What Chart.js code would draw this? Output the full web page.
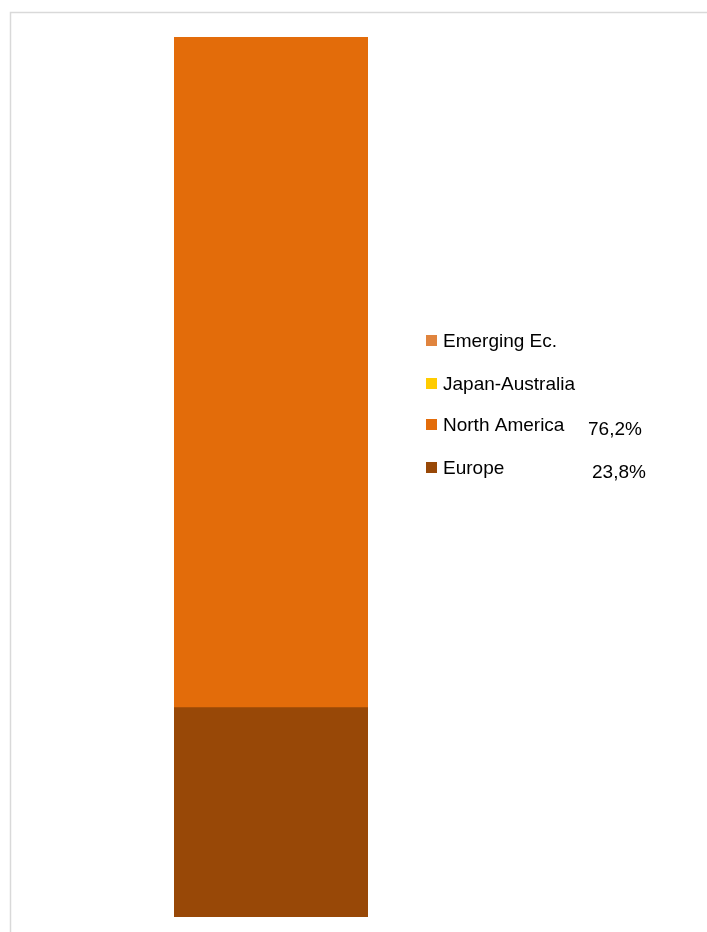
<!DOCTYPE html>
<html lang="en">
<head>
  <meta charset="UTF-8">
  <title>Regional split</title>
  <script src="https://cdn.jsdelivr.net/npm/chart.js"></script>
  <style>
    body {
      margin: 0;
      padding: 0;
      background: #ffffff;
    }
    #wrap {
      width: 707px;
      height: 932px;
    }
  </style>
</head>
<body>
  <div id="wrap">
    <canvas id="regionChart" width="707" height="932"></canvas>
  </div>

  <script>
    // data (percent of total)
    const categories = [''];
    const regions = ['Europe', 'North America', 'Japan-Australia', 'Emerging Ec.'];
    const shares = [23.8, 76.2, 0, 0];
    const shareLabels = ['23,8%', '76,2%', '', ''];
    const colors = ['#984807', '#E36C0A', '#FFCC00', '#E0843E'];

    // grey frame behind the chart
    const framePlugin = {
      id: 'frame',
      beforeDraw(chart) {
        const ctx = chart.ctx;
        ctx.save();
        ctx.strokeStyle = '#d9d9d9';
        ctx.lineWidth = 1.5;
        ctx.beginPath();
        ctx.moveTo(10.5, 940);
        ctx.lineTo(10.5, 12.5);
        ctx.lineTo(720, 12.5);
        ctx.stroke();
        ctx.restore();
      }
    };

    // legend on the right, top entry = last dataset
    const legendPlugin = {
      id: 'sideLegend',
      afterDraw(chart) {
        const ctx = chart.ctx;
        const font = '19px "Liberation Sans", Arial, sans-serif';
        const rowY = [335, 378, 419, 462];
        const valueX = [592, 588];
        ctx.save();
        ctx.font = font;
        ctx.textBaseline = 'alphabetic';
        for (let i = 0; i < regions.length; i++) {
          const idx = regions.length - 1 - i;
          const y = rowY[i];
          ctx.fillStyle = colors[idx];
          ctx.fillRect(426, y, 11, 11);
          ctx.fillStyle = '#000000';
          ctx.fillText(regions[idx], 443, y + 12);
          if (shareLabels[idx]) {
            ctx.fillText(shareLabels[idx], valueX[idx], y + 16);
          }
        }
        ctx.restore();
      }
    };

    const datasets = regions.map((name, i) => ({
      label: name,
      data: [shares[i]],
      backgroundColor: colors[i],
      borderWidth: 0,
      barPercentage: 1,
      categoryPercentage: 1
    }));

    new Chart(document.getElementById('regionChart'), {
      type: 'bar',
      data: { labels: categories, datasets: datasets },
      options: {
        responsive: false,
        animation: false,
        layout: {
          padding: { left: 174, right: 339, top: 37, bottom: 15 }
        },
        plugins: {
          legend: { display: false },
          tooltip: { enabled: false }
        },
        scales: {
          x: { stacked: true, display: false },
          y: { stacked: true, display: false, min: 0, max: 100 }
        }
      },
      plugins: [framePlugin, legendPlugin]
    });
  </script>
</body>
</html>
